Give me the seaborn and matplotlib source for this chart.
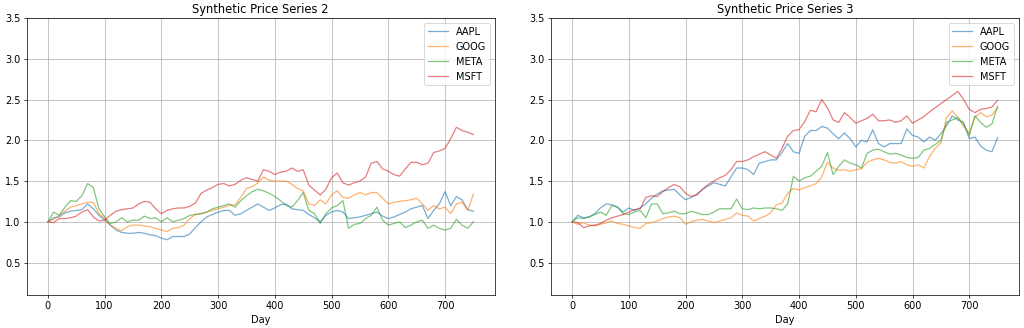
import pandas as pd
import matplotlib
matplotlib.use("Agg")
import matplotlib.pyplot as plt
import seaborn as sns

days = list(range(0, 751, 10))
tickers = ["AAPL", "GOOG", "META", "MSFT"]

# Series 2
s2_aapl = [1.00, 1.05, 1.06, 1.11, 1.13, 1.14, 1.15, 1.22, 1.16, 1.08,
           1.02, 0.96, 0.90, 0.87, 0.86, 0.86, 0.87, 0.86, 0.84, 0.83,
           0.80, 0.78, 0.82, 0.82, 0.82, 0.85, 0.93, 1.00, 1.06, 1.09,
           1.12, 1.14, 1.14, 1.08, 1.10, 1.14, 1.18, 1.22, 1.18, 1.14,
           1.17, 1.21, 1.22, 1.16, 1.15, 1.14, 1.09, 1.05, 1.00, 1.08,
           1.12, 1.14, 1.12, 1.04, 1.05, 1.06, 1.08, 1.10, 1.12, 1.07,
           1.04, 1.06, 1.09, 1.12, 1.16, 1.18, 1.20, 1.04, 1.14, 1.22,
           1.37, 1.20, 1.31, 1.27, 1.15, 1.13]
s2_goog = [1.00, 1.03, 1.08, 1.13, 1.18, 1.20, 1.22, 1.24, 1.24, 1.10,
           1.04, 0.96, 0.92, 0.89, 0.94, 0.96, 0.96, 0.95, 0.94, 0.92,
           0.90, 0.88, 0.92, 0.93, 0.96, 1.04, 1.09, 1.10, 1.12, 1.14,
           1.16, 1.18, 1.20, 1.21, 1.30, 1.41, 1.43, 1.48, 1.55, 1.51,
           1.50, 1.50, 1.50, 1.46, 1.41, 1.38, 1.22, 1.20, 1.27, 1.22,
           1.33, 1.38, 1.30, 1.29, 1.33, 1.36, 1.33, 1.36, 1.36, 1.29,
           1.22, 1.24, 1.25, 1.26, 1.27, 1.29, 1.22, 1.14, 1.20, 1.16,
           1.18, 1.10, 1.22, 1.24, 1.14, 1.34]
s2_meta = [1.00, 1.12, 1.08, 1.18, 1.26, 1.25, 1.32, 1.47, 1.42, 1.16,
           1.06, 0.98, 1.00, 1.05, 1.00, 1.02, 1.02, 1.07, 1.04, 1.05,
           1.00, 1.05, 1.00, 1.02, 1.04, 1.08, 1.09, 1.10, 1.12, 1.16,
           1.18, 1.20, 1.22, 1.18, 1.26, 1.32, 1.37, 1.40, 1.38, 1.35,
           1.31, 1.26, 1.20, 1.18, 1.26, 1.36, 1.14, 1.10, 0.98, 1.10,
           1.17, 1.20, 1.26, 0.92, 0.97, 0.98, 1.04, 1.08, 1.18, 1.02,
           0.96, 0.98, 1.00, 0.93, 0.96, 1.00, 1.02, 0.92, 0.96, 0.92,
           0.90, 0.92, 1.03, 0.96, 0.92, 1.00]
s2_msft = [1.00, 0.99, 1.04, 1.04, 1.05, 1.07, 1.12, 1.15, 1.06, 1.01,
           1.02, 1.08, 1.13, 1.15, 1.16, 1.17, 1.22, 1.25, 1.24, 1.16,
           1.10, 1.14, 1.16, 1.17, 1.17, 1.19, 1.23, 1.35, 1.39, 1.42,
           1.46, 1.47, 1.44, 1.46, 1.51, 1.54, 1.52, 1.50, 1.64, 1.62,
           1.58, 1.61, 1.62, 1.66, 1.62, 1.64, 1.45, 1.39, 1.33, 1.40,
           1.54, 1.60, 1.48, 1.45, 1.48, 1.50, 1.55, 1.72, 1.74, 1.65,
           1.62, 1.58, 1.56, 1.65, 1.73, 1.73, 1.70, 1.72, 1.85, 1.87,
           1.90, 2.02, 2.16, 2.12, 2.10, 2.07]

# Series 3
s3_aapl = [1.00, 1.08, 1.05, 1.06, 1.10, 1.17, 1.22, 1.21, 1.18, 1.12,
           1.17, 1.14, 1.17, 1.22, 1.29, 1.34, 1.38, 1.39, 1.40, 1.33,
           1.27, 1.30, 1.34, 1.40, 1.44, 1.48, 1.46, 1.44, 1.55, 1.66,
           1.66, 1.64, 1.58, 1.72, 1.74, 1.76, 1.76, 1.85, 1.96, 1.86,
           1.84, 2.05, 2.12, 2.12, 2.17, 2.15, 2.08, 2.02, 2.09, 2.02,
           1.92, 2.00, 1.98, 2.13, 1.96, 1.92, 1.96, 1.96, 1.96, 2.14,
           2.06, 2.04, 1.98, 2.04, 2.00, 2.08, 2.18, 2.30, 2.25, 2.22,
           2.02, 2.04, 1.93, 1.88, 1.86, 2.03]
s3_goog = [1.00, 0.97, 0.99, 0.96, 0.95, 0.97, 0.99, 1.01, 0.98, 0.97,
           0.95, 0.93, 0.92, 0.98, 0.99, 1.01, 1.04, 1.06, 1.07, 1.05,
           0.97, 1.00, 1.02, 1.03, 1.01, 0.99, 1.01, 1.03, 1.05, 1.11,
           1.08, 1.07, 1.01, 1.04, 1.07, 1.11, 1.21, 1.23, 1.35, 1.41,
           1.39, 1.42, 1.44, 1.47, 1.55, 1.73, 1.66, 1.63, 1.64, 1.62,
           1.64, 1.65, 1.73, 1.76, 1.78, 1.76, 1.73, 1.72, 1.74, 1.70,
           1.68, 1.70, 1.66, 1.80, 1.90, 1.97, 2.28, 2.36, 2.28, 2.17,
           2.09, 2.28, 2.34, 2.29, 2.31, 2.40]
s3_meta = [1.00, 1.05, 1.04, 1.06, 1.09, 1.12, 1.08, 1.20, 1.18, 1.10,
           1.09, 1.12, 1.14, 1.05, 1.22, 1.22, 1.10, 1.11, 1.13, 1.10,
           1.10, 1.13, 1.11, 1.09, 1.09, 1.12, 1.16, 1.16, 1.16, 1.28,
           1.16, 1.15, 1.17, 1.16, 1.17, 1.17, 1.16, 1.14, 1.22, 1.56,
           1.50, 1.54, 1.56, 1.62, 1.68, 1.85, 1.58, 1.68, 1.76, 1.72,
           1.70, 1.66, 1.84, 1.88, 1.89, 1.86, 1.83, 1.84, 1.82, 1.79,
           1.78, 1.79, 1.88, 1.90, 1.95, 2.00, 2.22, 2.25, 2.28, 2.20,
           2.06, 2.30, 2.22, 2.16, 2.20, 2.42]
s3_msft = [1.00, 0.99, 0.93, 0.95, 0.96, 0.98, 1.02, 1.05, 1.07, 1.09,
           1.12, 1.15, 1.16, 1.30, 1.32, 1.31, 1.37, 1.42, 1.46, 1.43,
           1.35, 1.31, 1.33, 1.40, 1.46, 1.50, 1.54, 1.57, 1.64, 1.74,
           1.74, 1.76, 1.80, 1.83, 1.86, 1.82, 1.78, 1.90, 2.05, 2.12,
           2.13, 2.23, 2.37, 2.35, 2.50, 2.40, 2.25, 2.22, 2.34, 2.28,
           2.21, 2.24, 2.27, 2.32, 2.24, 2.24, 2.25, 2.22, 2.24, 2.30,
           2.21, 2.25, 2.29, 2.35, 2.40, 2.45, 2.50, 2.55, 2.60, 2.50,
           2.38, 2.34, 2.38, 2.39, 2.41, 2.49]

panels = [
    ("Synthetic Price Series 2", [s2_aapl, s2_goog, s2_meta, s2_msft]),
    ("Synthetic Price Series 3", [s3_aapl, s3_goog, s3_meta, s3_msft]),
]

plt.rcParams.update({"font.size": 11, "axes.titlesize": 13})

fig, axes = plt.subplots(1, 2, figsize=(16, 5.125), dpi=64)
fig.subplots_adjust(left=0.026, right=0.995, bottom=0.10, top=0.945, wspace=0.12)

for ax, (title, series) in zip(axes, panels):
    df = pd.DataFrame(dict(zip(tickers, series)), index=pd.Index(days, name="Day"))
    sns.lineplot(data=df, ax=ax, dashes=False, alpha=0.6, linewidth=1.4, palette="tab10")
    ax.set_title(title)
    ax.set_xlabel("Day")
    ax.set_ylabel("")
    ax.set_ylim(0.1, 3.5)
    ax.grid(True)
    ax.legend(loc="upper right")

fig.savefig("out.png", dpi=64)
